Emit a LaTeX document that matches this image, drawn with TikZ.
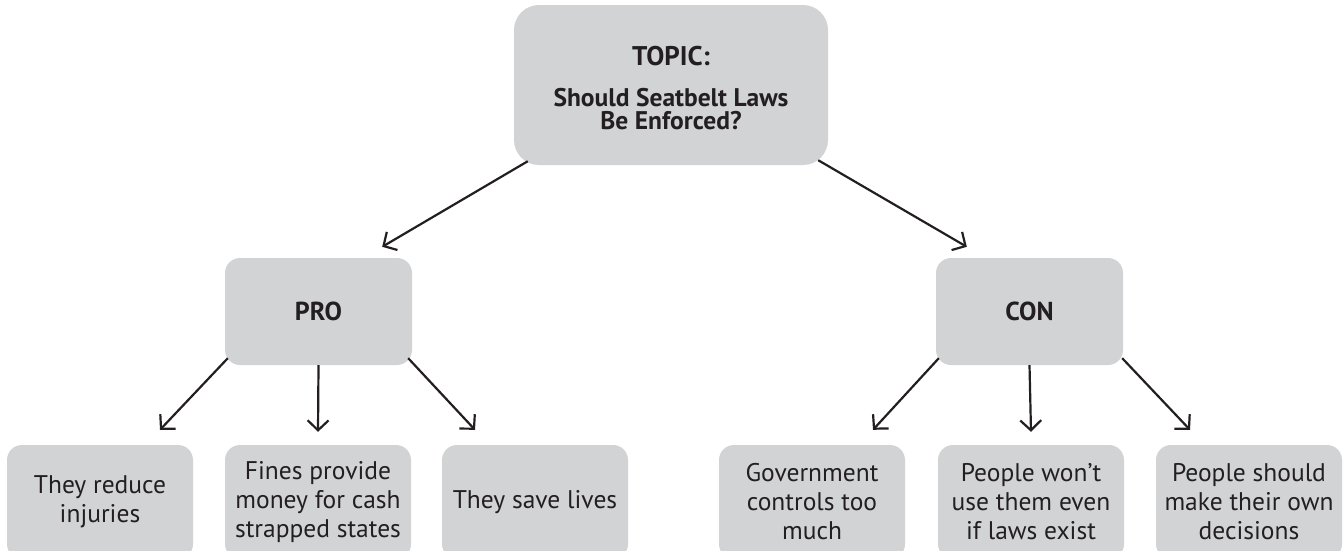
\documentclass[tikz,border=0pt]{standalone}
\usepackage{fontspec}
\setmainfont{PT Sans}
\usetikzlibrary{arrows.meta,calc}
\definecolor{boxgray}{HTML}{D1D3D4}
\definecolor{ink}{HTML}{231F20}
\begin{document}
\begin{tikzpicture}[x=1pt,y=-1pt,
  box/.style={fill=boxgray, draw=none, rounded corners=15pt, align=center, text=ink,
    inner sep=0pt, font=\fontsize{25.5}{29}\selectfont},
  leaf/.style={box, minimum width=186pt, minimum height=114pt},
  side/.style={box, minimum width=187pt, minimum height=107pt, font=\bfseries\fontsize{26}{29}\selectfont},
  arr/.style={draw=ink, line width=2.2pt, -{Straight Barb[length=10pt,width=21pt,line width=2.2pt]}}
]
\useasboundingbox (0,0) rectangle (1343,550);
\node[box, minimum width=314pt, minimum height=160pt, rounded corners=25pt,
  font=\bfseries\fontsize{25.5}{23}\selectfont] (top) at (671,85)
  {\rule{0pt}{25pt}{\fontsize{27}{23}\selectfont TOPIC:}\\[18pt]Should Seatbelt Laws\\Be Enforced?};
\node[side] (pro) at (318.5,311.5) {PRO};
\node[side] (con) at (1029.5,311.5) {CON};
\node[leaf] (c1) at (100,502) {They reduce\\injuries};
\node[leaf] (c2) at (318,502) {Fines provide\\money for cash\\strapped states};
\node[leaf] (c3) at (535,502) {They save lives};
\node[leaf] (c4) at (812,502) {Government\\controls too\\much};
\node[leaf] (c5) at (1031,502) {People won’t\\use them even\\if laws exist};
\node[leaf] (c6) at (1249,502) {People should\\make their own\\decisions};
\draw[arr] ($(top.south west)+(14,-4)$) -- ($(pro.north east)+(-30,-11)$);
\draw[arr] ($(top.south east)+(-10,-5)$) -- ($(con.north west)+(31,-11)$);
\draw[arr] ($(pro.south west)+(3,-7)$) -- ($(c1.north)+(60,-15)$);
\draw[arr] (pro.south) -- ($(c2.north)+(0,-13)$);
\draw[arr] ($(pro.south east)+(-4,-7)$) -- ($(c3.north)+(-60,-15)$);
\draw[arr] ($(con.south west)+(3,-7)$) -- ($(c4.north)+(61,-15)$);
\draw[arr] (con.south) -- ($(c5.north)+(0,-13)$);
\draw[arr] ($(con.south east)+(-1,-7)$) -- ($(c6.north)+(-59,-15)$);
\end{tikzpicture}
\end{document}
